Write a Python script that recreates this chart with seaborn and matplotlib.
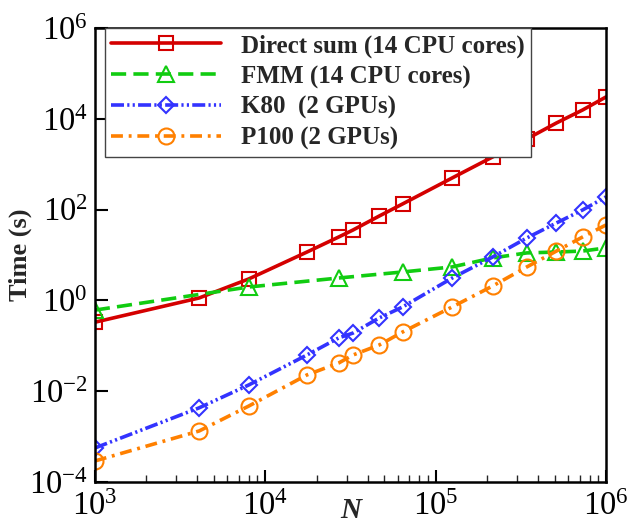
import numpy as np
import pandas as pd
import matplotlib
matplotlib.use("Agg")
import matplotlib.pyplot as plt
import seaborn as sns

# problem sizes (N = n^3)
n_direct = [1000, 4096, 8000, 17576, 27000, 32768, 46656, 64000,
            125000, 216000, 343000, 512000, 729000, 1000000]
t_direct = [0.33, 1.13, 2.96, 11.6, 24.9, 35.5, 72, 133,
            496, 1440, 3590, 8080, 15600, 30200]

n_fmm = [1000, 8000, 27000, 64000, 125000, 216000, 343000, 512000, 729000, 1000000]
t_fmm = [0.61, 1.97, 3.11, 4.22, 5.45, 8.6, 11.1, 11.6, 12.2, 14.3]

n_gpu = n_direct
t_k80 = [5.6e-4, 4.3e-3, 0.0137, 0.0627, 0.149, 0.191, 0.41, 0.716,
         3.1, 9.0, 23.7, 50.7, 98, 190]
t_p100 = [2.9e-4, 1.33e-3, 4.7e-3, 0.0228, 0.0418, 0.0627, 0.104, 0.201,
          0.716, 2.07, 5.45, 12.2, 24.9, 45.8]

labels = ["Direct sum (14 CPU cores)", "FMM (14 CPU cores)",
          "K80  (2 GPUs)", "P100 (2 GPUs)"]
colors = ["#d40000", "#11cc11", "#3333ff", "#ff8000"]
markers = ["s", "^", "D", "o"]
dashes = ["-", (0, (4.2, 2.0)), (0, (3.6, 0.9, 0.6, 0.9, 0.6, 0.9)), (0, (3.3, 1.6, 0.8, 1.6))]
msizes = [10, 11, 8.5, 11.5]

sns.set_style("ticks")
plt.rcParams["font.family"] = ["Liberation Serif", "DejaVu Serif"]
plt.rcParams["mathtext.fontset"] = "custom"
plt.rcParams["mathtext.rm"] = "Liberation Serif"
plt.rcParams["mathtext.it"] = "Liberation Serif:italic"
plt.rcParams["mathtext.bf"] = "Liberation Serif:bold"
plt.rcParams["mathtext.default"] = "regular"

fig = plt.figure(figsize=(6.28, 5.27), dpi=100)
ax = fig.add_axes([0.151, 0.0854, 0.814, 0.8616])

series = [(n_direct, t_direct), (n_fmm, t_fmm), (n_gpu, t_k80), (n_gpu, t_p100)]
for (xs, ys), lab, c, m, ls, ms in zip(series, labels, colors, markers, dashes, msizes):
    df = pd.DataFrame({"N": xs, "Time": ys})
    sns.lineplot(data=df, x="N", y="Time", ax=ax, color=c, linewidth=2.6,
                 linestyle=ls, marker=m, markersize=ms, markerfacecolor="none",
                 markeredgecolor=c, markeredgewidth=1.5, label=lab)

ax.set_xscale("log")
ax.set_yscale("log")
ax.set_xlim(1e3, 1e6)
ax.set_ylim(1e-4, 1e6)

yt = [1e-4, 1e-2, 1e0, 1e2, 1e4, 1e6]
ax.set_yticks(yt)
ax.set_yticklabels([r"$10^{%d}$" % int(np.log10(v)) for v in yt])
ax.yaxis.set_minor_locator(matplotlib.ticker.NullLocator())
xt = [1e3, 1e4, 1e5, 1e6]
ax.set_xticks(xt)
ax.set_xticklabels([r"$10^{%d}$" % int(np.log10(v)) for v in xt])

ax.tick_params(axis="both", which="major", direction="in", length=9, width=1.5,
               labelsize=23.5, colors="black")
ax.tick_params(axis="y", which="major", pad=5)
ax.tick_params(axis="x", which="major", pad=7)
ax.tick_params(axis="x", which="minor", direction="in", length=5, width=1)
for s in ax.spines.values():
    s.set_linewidth(1.8)
    s.set_color("black")

ax.set_xlabel("N", fontsize=21, fontweight="bold", fontstyle="italic")
ax.xaxis.set_label_coords(0.5, -0.033)
ax.set_ylabel("Time (s)", fontsize=19, fontweight="bold", labelpad=-2)

leg = ax.legend(loc="upper left", bbox_to_anchor=(0.02, 1.0), frameon=True,
                fancybox=False, edgecolor="#444444", framealpha=1,
                prop={"weight": "bold", "size": 18}, handlelength=4.4,
                handletextpad=0.8, borderpad=0.25, labelspacing=0.3, borderaxespad=0)
leg.get_frame().set_linewidth(1.0)

fig.savefig("out.png", dpi=100)
